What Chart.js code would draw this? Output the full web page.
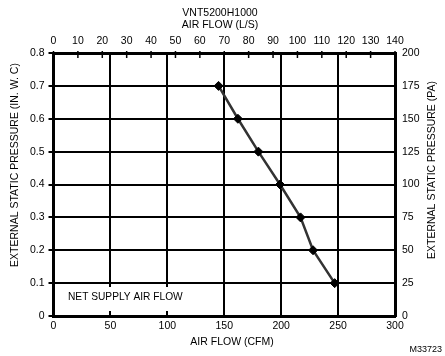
<!DOCTYPE html>
<html>
<head>
<meta charset="utf-8">
<script src="https://cdn.jsdelivr.net/npm/chart.js@4"></script>
<style>
  html, body { margin: 0; padding: 0; background: #fff; }
  #wrap { width: 445px; height: 356px; }
</style>
</head>
<body>
<div id="wrap"><canvas id="chart"></canvas></div>
<script>
// air flow (CFM) vs external static pressure (in. w.c.)
const airFlowCfm = [145, 162, 180, 199, 217, 228, 247];
const staticPressure = [0.7, 0.6, 0.5, 0.4, 0.3, 0.2, 0.1];

const chartTitle = "VNT5200H1000";
const topAxisTitle = "AIR FLOW (L/S)";
const bottomAxisTitle = "AIR FLOW (CFM)";
const leftAxisTitle = "EXTERNAL STATIC PRESSURE (IN. W. C)";
const rightAxisTitle = "EXTERNAL STATIC PRESSURE (PA)";
const boxLabel = "NET SUPPLY AIR FLOW";
const figureCode = "M33723";

const FONT = "'Liberation Sans', Arial, sans-serif";

const points = airFlowCfm.map((x, i) => ({ x: x, y: staticPressure[i] }));

// extra text + inward ticks on the top axis
const decorations = {
    id: "decorations",
    afterDraw(chart) {
        const ctx = chart.ctx;
        const area = chart.chartArea;
        const top = chart.scales.xTop;

        ctx.save();
        ctx.strokeStyle = "#000";
        ctx.lineWidth = 1.5;
        for (let v = 0; v <= 140; v += 10) {
            const px = top.getPixelForValue(v);
            ctx.beginPath();
            ctx.moveTo(px, area.top - 2);
            ctx.lineTo(px, area.top + 5);
            ctx.stroke();
        }

        // white box behind the label
        ctx.fillStyle = "#fff";
        ctx.fillRect(56, 287, 134, 24);

        ctx.fillStyle = "#000";
        ctx.font = "10.2px " + FONT;
        ctx.textAlign = "left";
        ctx.textBaseline = "middle";
        ctx.fillText(boxLabel, 68, 297);

        ctx.font = "10.5px " + FONT;
        ctx.textAlign = "center";
        ctx.fillText(chartTitle, 220, 13);
        ctx.fillText(topAxisTitle, 220, 25);
        ctx.fillText(bottomAxisTitle, 232, 342);

        ctx.textAlign = "right";
        ctx.font = "9px " + FONT;
        ctx.fillText(figureCode, 442, 350);

        ctx.font = "10.5px " + FONT;
        ctx.textAlign = "center";
        ctx.save();
        ctx.translate(15, 165);
        ctx.rotate(-Math.PI / 2);
        ctx.fillText(leftAxisTitle, 0, 0);
        ctx.restore();

        ctx.save();
        ctx.translate(432, 170);
        ctx.rotate(-Math.PI / 2);
        ctx.fillText(rightAxisTitle, 0, 0);
        ctx.restore();
        ctx.restore();
    }
};

const tickFont = { family: FONT, size: 10.5 };

new Chart(document.getElementById("chart"), {
    type: "scatter",
    data: {
        datasets: [{
            data: points,
            showLine: true,
            borderColor: "#333",
            borderWidth: 2.5,
            pointStyle: "rectRot",
            pointRadius: 4.5,
            pointBackgroundColor: "#000",
            pointBorderColor: "#000",
            pointBorderWidth: 1
        }]
    },
    options: {
        responsive: true,
        maintainAspectRatio: false,
        animation: false,
        layout: { padding: 0 },
        plugins: {
            legend: { display: false },
            tooltip: { enabled: false }
        },
        scales: {
            x: {
                type: "linear",
                position: "bottom",
                min: 0, max: 300,
                ticks: { stepSize: 50, color: "#000", font: tickFont, padding: 4, maxRotation: 0 },
                grid: { color: "#000", lineWidth: 2, drawTicks: false },
                border: { display: true, color: "#000", width: 3 },
                afterFit(s) { s.height = 40; }
            },
            xTop: {
                type: "linear",
                position: "top",
                min: 0, max: 140,
                ticks: { stepSize: 10, color: "#000", font: tickFont, padding: 6, maxRotation: 0 },
                grid: { display: false, drawTicks: false },
                border: { display: true, color: "#000", width: 3 },
                afterFit(s) { s.height = 53; }
            },
            y: {
                type: "linear",
                position: "left",
                min: 0, max: 0.8,
                ticks: { stepSize: 0.1, color: "#000", font: tickFont, padding: 4 },
                grid: { color: "#000", lineWidth: 2, tickLength: 5 },
                border: { display: true, color: "#000", width: 3 },
                afterFit(s) { s.width = 53.5; }
            },
            y2: {
                type: "linear",
                position: "right",
                min: 0, max: 200,
                ticks: { stepSize: 25, color: "#000", font: tickFont, padding: 4 },
                grid: { display: false, tickLength: 3 },
                border: { display: true, color: "#000", width: 3 },
                afterFit(s) { s.width = 50; }
            }
        }
    },
    plugins: [decorations]
});
</script>
</body>
</html>
